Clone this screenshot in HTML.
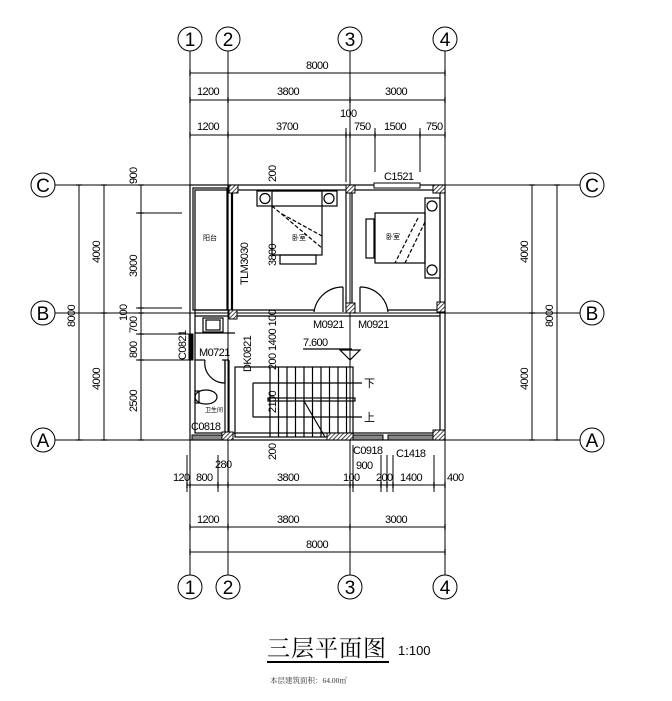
<!DOCTYPE html>
<html><head><meta charset="utf-8"><style>
html,body{margin:0;padding:0;background:#fff;}
svg{display:block;}
text{font-family:"Liberation Sans","Noto Sans CJK SC",sans-serif;fill:#000;}
.d{font-size:11px;letter-spacing:-0.6px;}
.ax{font-family:"Liberation Serif",serif;font-size:19px;}
</style></head><body>
<svg width="672" height="701" viewBox="0 0 672 701" xmlns="http://www.w3.org/2000/svg">
<defs>
<pattern id="h" width="3" height="3" patternUnits="userSpaceOnUse" patternTransform="rotate(45)">
<rect width="3" height="3" fill="#fff"/><line x1="0" y1="0" x2="0" y2="3" stroke="#000" stroke-width="1.4"/></pattern>
</defs>
<g stroke="#000" stroke-width="1" fill="none">
<!-- axis lines vertical -->
<line x1="190" y1="51" x2="190" y2="575"/>
<line x1="228" y1="51" x2="228" y2="575"/>
<line x1="350" y1="51" x2="350" y2="575"/>
<line x1="445" y1="51" x2="445" y2="575"/>
<!-- axis lines horizontal -->
<line x1="55" y1="185" x2="580" y2="185"/>
<line x1="55" y1="313" x2="580" y2="313"/>
<line x1="55" y1="440" x2="580" y2="440"/>
<!-- axis circles -->
<circle cx="190" cy="39" r="12"/><circle cx="228" cy="39" r="12"/><circle cx="350" cy="39" r="12"/><circle cx="445" cy="39" r="12"/>
<circle cx="190" cy="587" r="12"/><circle cx="228" cy="587" r="12"/><circle cx="350" cy="587" r="12"/><circle cx="445" cy="587" r="12"/>
<circle cx="43" cy="185" r="12"/><circle cx="43" cy="313" r="12"/><circle cx="43" cy="440" r="12"/>
<circle cx="592" cy="185" r="12"/><circle cx="592" cy="313" r="12"/><circle cx="592" cy="440" r="12"/>
<!-- top dims -->
<line x1="190" y1="73" x2="445" y2="73"/>
<line x1="190" y1="100" x2="445" y2="100"/>
<line x1="190" y1="135" x2="445" y2="135"/>
<line x1="346" y1="128" x2="346" y2="182"/>
<line x1="375" y1="128" x2="375" y2="172"/>
<line x1="420" y1="128" x2="420" y2="172"/>
<!-- bottom dims -->
<line x1="187" y1="485" x2="445" y2="485"/>
<line x1="190" y1="527" x2="445" y2="527"/>
<line x1="190" y1="552" x2="445" y2="552"/>
<line x1="187" y1="455" x2="187" y2="492"/>
<line x1="218" y1="455" x2="218" y2="492"/>
<line x1="353" y1="445" x2="353" y2="492"/>
<line x1="381" y1="455" x2="381" y2="492"/>
<line x1="387" y1="455" x2="387" y2="492"/>
<line x1="393" y1="455" x2="393" y2="492"/>
<line x1="434" y1="455" x2="434" y2="492"/>
<!-- left dims -->
<line x1="79" y1="185" x2="79" y2="440"/>
<line x1="104" y1="185" x2="104" y2="440"/>
<line x1="141" y1="185" x2="141" y2="440"/>
<line x1="136" y1="213" x2="182" y2="213"/>
<line x1="136" y1="308" x2="182" y2="308"/>
<line x1="136" y1="334" x2="190" y2="334"/>
<line x1="136" y1="360" x2="190" y2="360"/>
<!-- right dims -->
<line x1="532" y1="185" x2="532" y2="440"/>
<line x1="557" y1="185" x2="557" y2="440"/>
</g>
<!-- ticks -->
<g stroke="#000" stroke-width="1.3">
<path d="M190 70v6M445 70v6M190 97v6M228 97v6M350 97v6M445 97v6M190 132v6M228 132v6M346 132v6M350 132v6M375 132v6M420 132v6M445 132v6"/>
<path d="M187 482v6M190 482v6M218 482v6M228 482v6M350 482v6M353 482v6M381 482v6M387 482v6M393 482v6M434 482v6M445 482v6"/>
<path d="M190 524v6M228 524v6M350 524v6M445 524v6M190 549v6M445 549v6"/>
<path d="M76 185h6M76 440h6M101 185h6M101 313h6M101 440h6M138 185h6M138 213h6M138 308h6M138 313h6M138 334h6M138 360h6M138 440h6"/>
<path d="M529 185h6M529 313h6M529 440h6M554 185h6M554 440h6"/>
</g>
<!-- walls -->
<g stroke="#000" stroke-width="1.2" fill="none">
<rect x="190" y="185" width="255" height="255"/>
<rect x="195" y="190" width="245" height="243"/>
<rect x="193" y="188" width="34" height="122"/>
<line x1="232" y1="192" x2="232" y2="310" stroke-width="2.2"/>
<line x1="228" y1="185" x2="228" y2="310"/>
<line x1="346" y1="190" x2="346" y2="310"/>
<line x1="352" y1="190" x2="352" y2="310"/>
<line x1="195" y1="310" x2="314" y2="310"/><line x1="195" y1="316" x2="440" y2="316"/>
<line x1="388" y1="310" x2="440" y2="310"/>
<line x1="195" y1="333" x2="235" y2="333"/>
<line x1="225" y1="360" x2="225" y2="433"/><line x1="229" y1="360" x2="229" y2="433"/>
<line x1="195" y1="360" x2="205" y2="360"/><line x1="222" y1="360" x2="229" y2="360"/>
<!-- door M0721 -->
<line x1="225" y1="360" x2="225" y2="383"/>
<path d="M205 360 A20 20 0 0 0 225 383"/>
<!-- doors M0921 -->
<line x1="343" y1="287" x2="343" y2="312"/><path d="M314 312 A29 29 0 0 1 343 287"/>
<line x1="360" y1="287" x2="360" y2="312"/><path d="M360 287 A28 28 0 0 1 388 312"/>
<!-- sink -->
<rect x="203" y="318" width="20" height="14"/><rect x="206" y="320" width="14" height="10"/>
<!-- toilet -->
<ellipse cx="206" cy="397" rx="11" ry="7"/><rect x="195" y="391" width="4" height="12"/>
<!-- stairs -->
<rect x="235" y="367" width="118" height="70"/>
<path d="M270 367v70M278.5 367v70M287 367v70M295.5 367v70M304 367v70M312.5 367v70M321 367v70M329.5 367v70M338 367v70M346.5 367v70"/>
<rect x="268" y="398" width="87" height="3"/>
<path d="M253 383h109M253 417h109M253 383v34"/>
<path d="M304 401 L325 437"/>
<!-- beds -->
<rect x="257" y="191" width="80" height="15"/>
<circle cx="265" cy="198.5" r="5"/><circle cx="329" cy="198.5" r="5"/>
<rect x="272" y="191" width="50" height="64"/>
<rect x="280" y="255" width="36" height="9"/>
<path d="M272 206 L322 248 M282 214 L322 236" stroke-dasharray="4 2"/>
<rect x="425" y="198" width="15" height="80"/>
<circle cx="432" cy="206" r="5"/><circle cx="432" cy="270" r="5"/>
<rect x="375" y="213" width="50" height="50"/>
<rect x="366" y="219" width="8" height="39"/>
<path d="M418 218 L395 263 M425 222 L405 263" stroke-dasharray="4 2"/>
<!-- 7.600 -->
<line x1="303" y1="349" x2="352" y2="349"/>
<path d="M340 350 L360 350 L350 360 Z"/>
</g>
<!-- windows -->
<g fill="#888" stroke="#000" stroke-width="1">
<rect x="374" y="183" width="46" height="5" fill="#fff"/>
<rect x="353" y="435" width="30" height="5"/>
<rect x="388" y="435" width="46" height="5"/>
<rect x="192" y="435" width="30" height="5"/>
<rect x="189" y="334" width="4" height="26" fill="#000"/>
</g>
<!-- columns -->
<g fill="url(#h)" stroke="#000" stroke-width="1">
<rect x="229" y="185" width="9" height="8"/><rect x="346" y="185" width="9" height="8"/><rect x="433" y="185" width="12" height="8"/>
<rect x="229" y="310" width="8" height="9"/><rect x="346" y="303" width="9" height="10"/><rect x="437" y="302" width="8" height="10"/>
<rect x="222" y="432" width="11" height="8"/><rect x="327" y="433" width="26" height="7"/><rect x="433" y="430" width="12" height="10"/>
</g>
<!-- dimension text -->
<g class="d">
<text x="306" y="69">8000</text>
<text x="197" y="95">1200</text><text x="277" y="95">3800</text><text x="385" y="95">3000</text>
<text x="197" y="130">1200</text><text x="276" y="130">3700</text><text x="340" y="117">100</text>
<text x="354" y="130">750</text><text x="384" y="130">1500</text><text x="426" y="130">750</text>
<text x="173" y="481">120</text><text x="196" y="481">800</text><text x="215" y="468">280</text>
<text x="277" y="481">3800</text><text x="343" y="481">100</text><text x="356" y="469">900</text>
<text x="376" y="481">200</text><text x="400" y="481">1400</text><text x="447" y="481">400</text>
<text x="197" y="523">1200</text><text x="277" y="523">3800</text><text x="385" y="523">3000</text>
<text x="306" y="548">8000</text>
<text x="353" y="454">C0918</text><text x="396" y="457">C1418</text>
<text x="384" y="180">C1521</text>
<text x="313" y="328">M0921</text><text x="358" y="328">M0921</text>
<text x="199" y="356">M0721</text><text x="191" y="430">C0818</text>
<text x="303" y="346">7.600</text>
<text x="364" y="387">下</text><text x="364" y="421">上</text>
</g>
<g class="d">
<text transform="translate(75 327) rotate(-90)">8000</text>
<text transform="translate(100 263) rotate(-90)">4000</text>
<text transform="translate(100 390) rotate(-90)">4000</text>
<text transform="translate(137 184) rotate(-90)">900</text>
<text transform="translate(137 277) rotate(-90)">3000</text>
<text transform="translate(127 321) rotate(-90)">100</text>
<text transform="translate(137 333) rotate(-90)">700</text>
<text transform="translate(137 358) rotate(-90)">800</text>
<text transform="translate(137 412) rotate(-90)">2500</text>
<text transform="translate(186 360) rotate(-90)">C0821</text>
<text transform="translate(528 263) rotate(-90)">4000</text>
<text transform="translate(528 390) rotate(-90)">4000</text>
<text transform="translate(553 327) rotate(-90)">8000</text>
<text transform="translate(276 182) rotate(-90)">200</text>
<text transform="translate(276 266) rotate(-90)">3800</text>
<text transform="translate(248 285) rotate(-90)">TLM3030</text>
<text transform="translate(251 372) rotate(-90)">DK0821</text>
<text transform="translate(276 370) rotate(-90)">200 1400 100</text>
<text transform="translate(276 413) rotate(-90)">2100</text>
<text transform="translate(276 460) rotate(-90)">200</text>
</g>
<g font-size="7" fill="#333">
<text x="203" y="240" style="font-size:7px">阳台</text>
<text x="292" y="240" style="font-size:7px">卧室</text>
<text x="386" y="239" style="font-size:7px">卧室</text>
<text x="205" y="412" style="font-size:6px">卫生间</text>
</g>
<g class="ax" text-anchor="middle">
<text x="190" y="46">1</text><text x="228" y="46">2</text><text x="350" y="46">3</text><text x="445" y="46">4</text>
<text x="190" y="594">1</text><text x="228" y="594">2</text><text x="350" y="594">3</text><text x="445" y="594">4</text>
<text x="43" y="192">C</text><text x="43" y="320">B</text><text x="43" y="447">A</text>
<text x="592" y="192">C</text><text x="592" y="320">B</text><text x="592" y="447">A</text>
</g>
<text x="267" y="656" style="font-family:'Liberation Serif','Noto Serif CJK SC',serif;font-size:23px;letter-spacing:1px">三层平面图</text>
<rect x="267" y="661" width="122" height="2" fill="#000"/>
<text x="398" y="655" style="font-size:13px">1:100</text>
<text x="270" y="683" style="font-family:'Liberation Serif','Noto Serif CJK SC',serif;font-size:7.5px;fill:#333">本层建筑面积：64.00㎡</text>
</svg>
</body></html>
